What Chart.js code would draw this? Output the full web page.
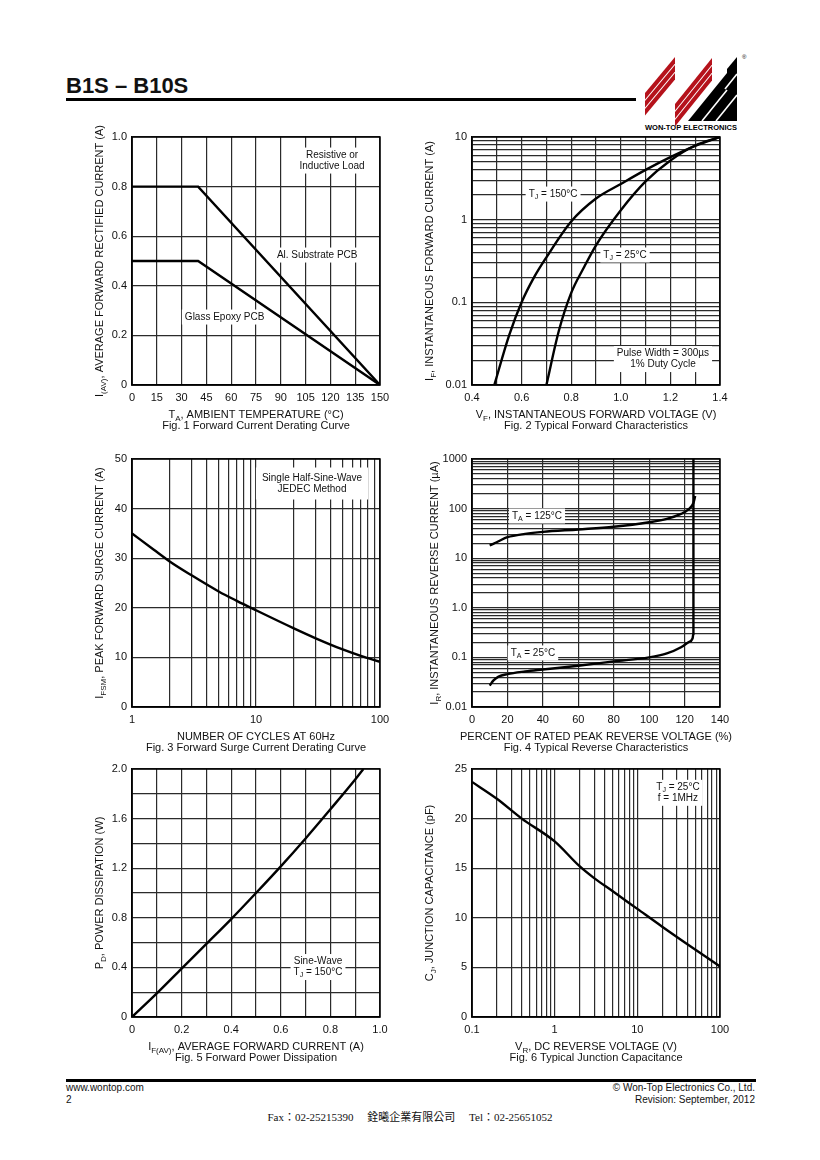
<!DOCTYPE html>
<html>
<head>
<meta charset="utf-8">
<script src="https://cdn.jsdelivr.net/npm/chart.js@4/dist/chart.umd.min.js"></script>
<style>
  html, body { margin: 0; padding: 0; background: #fff; }
  body { width: 820px; height: 1160px; position: relative; overflow: hidden; font-family: "Liberation Sans", Arial, sans-serif; color: #111; }
  canvas { position: absolute; }
  .abs { position: absolute; white-space: nowrap; }
</style>
</head>
<body>

<div class="abs" style="left:66px; top:74px; font-size:22px; line-height:24px; font-weight:bold;">B1S – B10S</div>
<div class="abs" style="left:66px; top:98px; width:570px; height:3px; background:#000;"></div>

<svg class="abs" style="left:630px; top:45px;" width="120" height="90" viewBox="0 0 120 90">
  <g fill="#b5121b">
    <polygon points="15,48 45,12 45,18.5 15,54.5"/>
    <polygon points="15,56 45,20 45,26.5 15,62.5"/>
    <polygon points="15,64 45,28 45,34.5 15,70.5"/>
    <polygon points="45,59 82,13 82,19.5 45,65.5"/>
    <polygon points="45,67 82,21 82,27.5 45,73.5"/>
    <polygon points="45,75 82,29 82,35.5 45,81.5"/>
  </g>
  <g fill="#000">
    <polygon points="58,76 97,28 97,76"/>
    <polygon points="97,24 107,12 107,76 97,76"/>
  </g>
  <g stroke="#fff" stroke-width="1.6">
    <line x1="72" y1="76" x2="97" y2="45"/>
    <line x1="86" y1="76" x2="107" y2="50"/>
    <line x1="95" y1="44" x2="107" y2="29"/>
  </g>
  <text x="112" y="14" font-size="6" font-family="Liberation Sans, Arial">®</text>
  <text x="15" y="85" font-size="7.5" font-weight="bold" font-family="Liberation Sans, Arial" textLength="92" lengthAdjust="spacingAndGlyphs">WON-TOP ELECTRONICS</text>
</svg>

<canvas id="fig1"></canvas>
<canvas id="fig2"></canvas>
<canvas id="fig3"></canvas>
<canvas id="fig4"></canvas>
<canvas id="fig5"></canvas>
<canvas id="fig6"></canvas>

<div class="abs" style="left:66px; top:1079px; width:690px; height:3px; background:#000;"></div>
<div class="abs" style="left:66px; top:1082px; font-size:10px; line-height:12px;">www.wontop.com<br>2</div>
<div class="abs" style="right:65px; top:1082px; font-size:10px; line-height:12px; text-align:right;">© Won-Top Electronics Co., Ltd.<br>Revision: September, 2012</div>
<div class="abs" style="left:0; width:820px; top:1110px; text-align:center; font-size:11px; line-height:14px; font-family:'Liberation Serif','DejaVu Serif','Noto Sans CJK TC',serif;">Fax：02-25215390 &nbsp; &nbsp; 銓曦企業有限公司 &nbsp; &nbsp; Tel：02-25651052</div>

<script>
// ---- Data ----
// Fig. 1 Forward current derating
const fig1Temp = [0, 40, 150];
const fig1AlPcb = [0.8, 0.8, 0];
const fig1GlassPcb = [0.5, 0.5, 0];
const fig1XLabels = ['0', '15', '30', '45', '60', '75', '90', '105', '120', '135', '150'];
const fig1YLabels = ['0', '0.2', '0.4', '0.6', '0.8', '1.0'];

// Fig. 2 Typical forward characteristics
const fig2Volt150 = [0.49, 0.55, 0.6, 0.65, 0.7, 0.8, 0.9, 1.0, 1.1, 1.2, 1.3, 1.4];
const fig2Amp150 = [0.01, 0.04, 0.1, 0.2, 0.35, 0.95, 1.8, 2.7, 4.0, 5.7, 7.8, 10];
const fig2Volt25 = [0.7, 0.75, 0.8, 0.85, 0.9, 1.0, 1.1, 1.2, 1.3, 1.4];
const fig2Amp25 = [0.01, 0.045, 0.13, 0.26, 0.49, 1.3, 2.9, 5.2, 7.9, 10];
const fig2XLabels = ['0.4', '0.6', '0.8', '1.0', '1.2', '1.4'];
const fig2YLabels = ['0.01', '0.1', '1', '10'];

// Fig. 3 Forward surge current derating
const fig3Cycles = [1, 1.5, 2, 3, 5, 7, 10, 20, 30, 50, 70, 100];
const fig3Surge = [35, 31.7, 29.4, 26.6, 23.3, 21.4, 19.5, 15.9, 13.9, 11.6, 10.3, 9.1];
const fig3XLabels = ['1', '10', '100'];
const fig3YLabels = ['0', '10', '20', '30', '40', '50'];

// Fig. 4 Typical reverse characteristics
const fig4Pct125 = [10, 15, 20, 30, 40, 60, 80, 100, 110, 118, 122, 125, 126];
const fig4Ir125 = [18, 22, 26.5, 31, 34, 38, 43, 53, 62, 78, 95, 130, 180];
const fig4Pct25 = [10, 12, 15, 20, 30, 40, 60, 80, 100, 110, 118, 122, 124.5, 125, 125];
const fig4Ir25 = [0.027, 0.034, 0.041, 0.046, 0.052, 0.057, 0.068, 0.083, 0.1, 0.12, 0.16, 0.2, 0.24, 0.3, 1000];
const fig4XLabels = ['0', '20', '40', '60', '80', '100', '120', '140'];
const fig4YLabels = ['0.01', '0.1', '1.0', '10', '100', '1000'];

// Fig. 5 Forward power dissipation
const fig5Current = [0, 0.1, 0.2, 0.3, 0.4, 0.5, 0.6, 0.7, 0.8, 0.9, 0.933];
const fig5Power = [0, 0.19, 0.39, 0.59, 0.79, 1.0, 1.215, 1.44, 1.675, 1.915, 2.0];
const fig5XLabels = ['0', '0.2', '0.4', '0.6', '0.8', '1.0'];
const fig5YLabels = ['0', '0.4', '0.8', '1.2', '1.6', '2.0'];

// Fig. 6 Typical junction capacitance
const fig6Volt = [0.1, 0.2, 0.4, 1, 2, 3, 5, 10, 20, 50, 100];
const fig6Cap = [23.7, 22.0, 20.0, 17.7, 15.2, 14.0, 12.7, 10.9, 9.1, 6.8, 5.1];
const fig6XLabels = ['0.1', '1', '10', '100'];
const fig6YLabels = ['0', '5', '10', '15', '20', '25'];

// ---- Helpers ----
const FONT = '"Liberation Sans", Arial, sans-serif';
const PLOT_W = 248, PLOT_H = 248;

const pts = (xs, ys) => xs.map((x, i) => ({ x: x, y: ys[i] }));

// gridline values: every decade multiple for log, fixed step for linear
function gridValues(type, min, max, step) {
    const vals = [];
    if (type === 'logarithmic') {
        for (let e = Math.round(Math.log10(min)); Math.pow(10, e) <= max * 1.0001; e++) {
            for (let m = 1; m < 10; m++) {
                const v = +(m * Math.pow(10, e)).toPrecision(6);
                if (v >= min * 0.9999 && v <= max * 1.0001) vals.push(v);
            }
        }
    } else {
        const n = Math.round((max - min) / step);
        for (let i = 0; i <= n; i++) vals.push(+(min + i * step).toFixed(6));
    }
    return vals;
}

function axis(type, min, max, labels, step, pos) {
    return {
        type: type, min: min, max: max, position: pos,
        afterFit: s => { if (pos === 'left') s.width = 70; else s.height = 50; },
        afterBuildTicks: s => { s.ticks = gridValues(type, min, max, step).map(v => ({ value: v })); },
        ticks: {
            autoSkip: false, maxRotation: 0, minRotation: 0,
            padding: pos === 'left' ? 5 : 6,
            color: '#111',
            font: { family: FONT, size: 11 },
            callback: v => {
                const hit = labels.find(l => Math.abs(Number(l) - v) <= 1e-9 * Math.abs(v) + 1e-12);
                return hit === undefined ? '' : hit;
            }
        },
        grid: { color: '#2b2b2b', lineWidth: 1.2, drawTicks: false },
        border: { color: '#000', width: 1.5 }
    };
}

// text with "_{sub}" parts
function richParts(ctx, str, size) {
    const parts = [];
    const re = /_\{([^}]*)\}/g;
    let last = 0, m;
    while ((m = re.exec(str))) {
        if (m.index > last) parts.push({ t: str.slice(last, m.index), sub: false });
        parts.push({ t: m[1], sub: true });
        last = re.lastIndex;
    }
    if (last < str.length) parts.push({ t: str.slice(last), sub: false });
    let w = 0;
    parts.forEach(p => {
        p.font = (p.sub ? Math.round(size * 0.72) : size) + 'px ' + FONT;
        ctx.font = p.font;
        p.w = ctx.measureText(p.t).width;
        w += p.w;
    });
    return { parts: parts, w: w };
}

function drawRich(ctx, str, x, y, size) {
    const r = richParts(ctx, str, size);
    let cx = x - r.w / 2;
    ctx.textAlign = 'left';
    ctx.textBaseline = 'middle';
    r.parts.forEach(p => {
        ctx.font = p.font;
        ctx.fillText(p.t, cx, p.sub ? y + size * 0.3 : y);
        cx += p.w;
    });
}

// ---- Plugin: notes, frame, axis titles, captions ----
const sheetText = {
    id: 'sheetText',
    beforeDatasetsDraw(chart, args, opts) {
        const { ctx, chartArea: a, scales: { x, y } } = chart;
        ctx.save();
        (opts.notes || []).forEach(n => {
            const px = x.getPixelForValue(n.at[0]);
            const py = y.getPixelForValue(n.at[1]);
            const lh = 11;
            const h = n.lines.length * lh;
            const w = Math.max(...n.lines.map(l => richParts(ctx, l, 10).w));
            const pad = n.pad || 3;
            ctx.fillStyle = '#fff';
            ctx.fillRect(px - w / 2 - pad, py - h / 2 - pad + 1, w + 2 * pad, h + 2 * pad - 2);
            ctx.fillStyle = '#111';
            n.lines.forEach((l, i) => drawRich(ctx, l, px, py - h / 2 + lh * (i + 0.5), 10));
        });
        ctx.strokeStyle = '#000';
        ctx.lineWidth = 1.5;
        ctx.strokeRect(a.left, a.top, a.right - a.left, a.bottom - a.top);
        ctx.restore();
    },
    afterDraw(chart, args, opts) {
        const { ctx, chartArea: a } = chart;
        const cx = (a.left + a.right) / 2;
        ctx.save();
        ctx.fillStyle = '#111';
        drawRich(ctx, opts.xTitle, cx, a.bottom + 30, 11);
        drawRich(ctx, opts.caption, cx, a.bottom + 41, 11);
        ctx.translate(a.left - opts.yGap, (a.top + a.bottom) / 2);
        ctx.rotate(-Math.PI / 2);
        drawRich(ctx, opts.yTitle, 0, 0, 11);
        ctx.restore();
    }
};

function makeChart(id, left, top, xAxis, yAxis, series, text) {
    const cv = document.getElementById(id);
    cv.width = PLOT_W + 100;
    cv.height = PLOT_H + 62;
    cv.style.left = (left - 70) + 'px';
    cv.style.top = (top - 12) + 'px';
    return new Chart(cv, {
        type: 'line',
        data: {
            datasets: series.map(s => ({
                data: pts(s.xs, s.ys),
                borderColor: '#000',
                borderWidth: 2.4,
                pointRadius: 0,
                fill: false,
                tension: s.smooth ? 0.4 : 0,
                cubicInterpolationMode: s.smooth ? 'monotone' : 'default'
            }))
        },
        options: {
            responsive: false,
            animation: false,
            events: [],
            layout: { padding: { left: 0, top: 12, right: 30, bottom: 0 } },
            plugins: { legend: { display: false }, tooltip: { enabled: false }, sheetText: text },
            scales: { x: xAxis, y: yAxis }
        },
        plugins: [sheetText]
    });
}

// ---- Charts ----
makeChart('fig1', 132, 137,
    axis('linear', 0, 150, fig1XLabels, 15, 'bottom'),
    axis('linear', 0, 1, fig1YLabels, 0.2, 'left'),
    [{ xs: fig1Temp, ys: fig1AlPcb }, { xs: fig1Temp, ys: fig1GlassPcb }],
    {
        yTitle: 'I_{(AV)}, AVERAGE FORWARD RECTIFIED CURRENT (A)', yGap: 32,
        xTitle: 'T_{A}, AMBIENT TEMPERATURE (°C)',
        caption: 'Fig. 1 Forward Current Derating Curve',
        notes: [
            { at: [121, 0.905], lines: ['Resistive or', 'Inductive Load'] },
            { at: [112, 0.524], lines: ['Al. Substrate PCB'] },
            { at: [56, 0.274], lines: ['Glass Epoxy PCB'] }
        ]
    });

makeChart('fig2', 472, 137,
    axis('linear', 0.4, 1.4, fig2XLabels, 0.1, 'bottom'),
    axis('logarithmic', 0.01, 10, fig2YLabels, null, 'left'),
    [{ xs: fig2Volt150, ys: fig2Amp150, smooth: true }, { xs: fig2Volt25, ys: fig2Amp25, smooth: true }],
    {
        yTitle: 'I_{F}, INSTANTANEOUS FORWARD CURRENT (A)', yGap: 42,
        xTitle: 'V_{F}, INSTANTANEOUS FORWARD VOLTAGE (V)',
        caption: 'Fig. 2 Typical Forward Characteristics',
        notes: [
            { at: [0.727, 2.04], lines: ['T_{J} = 150°C'] },
            { at: [1.017, 0.374], lines: ['T_{J} = 25°C'] },
            { at: [1.17, 0.0206], lines: ['Pulse Width = 300µs', '1% Duty Cycle'] }
        ]
    });

makeChart('fig3', 132, 459,
    axis('logarithmic', 1, 100, fig3XLabels, null, 'bottom'),
    axis('linear', 0, 50, fig3YLabels, 10, 'left'),
    [{ xs: fig3Cycles, ys: fig3Surge, smooth: true }],
    {
        yTitle: 'I_{FSM}, PEAK FORWARD SURGE CURRENT (A)', yGap: 32,
        xTitle: 'NUMBER OF CYCLES AT 60Hz',
        caption: 'Fig. 3 Forward Surge Current Derating Curve',
        notes: [
            { at: [28.3, 45.06], lines: ['Single Half-Sine-Wave', 'JEDEC Method'], pad: 6 }
        ]
    });

makeChart('fig4', 472, 459,
    axis('linear', 0, 140, fig4XLabels, 20, 'bottom'),
    axis('logarithmic', 0.01, 1000, fig4YLabels, null, 'left'),
    [{ xs: fig4Pct125, ys: fig4Ir125, smooth: true }, { xs: fig4Pct25, ys: fig4Ir25, smooth: true }],
    {
        yTitle: 'I_{R}, INSTANTANEOUS REVERSE CURRENT (µA)', yGap: 37,
        xTitle: 'PERCENT OF RATED PEAK REVERSE VOLTAGE (%)',
        caption: 'Fig. 4 Typical Reverse Characteristics',
        notes: [
            { at: [36.7, 71], lines: ['T_{A} = 125°C'] },
            { at: [34.4, 0.123], lines: ['T_{A} = 25°C'] }
        ]
    });

makeChart('fig5', 132, 769,
    axis('linear', 0, 1, fig5XLabels, 0.1, 'bottom'),
    axis('linear', 0, 2, fig5YLabels, 0.2, 'left'),
    [{ xs: fig5Current, ys: fig5Power, smooth: true }],
    {
        yTitle: 'P_{D}, POWER DISSIPATION (W)', yGap: 32,
        xTitle: 'I_{F(AV)}, AVERAGE FORWARD CURRENT (A)',
        caption: 'Fig. 5 Forward Power Dissipation',
        notes: [
            { at: [0.75, 0.403], lines: ['Sine-Wave', 'T_{J} = 150°C'] }
        ]
    });

makeChart('fig6', 472, 769,
    axis('logarithmic', 0.1, 100, fig6XLabels, null, 'bottom'),
    axis('linear', 0, 25, fig6YLabels, 5, 'left'),
    [{ xs: fig6Volt, ys: fig6Cap, smooth: true }],
    {
        yTitle: 'C_{J}, JUNCTION CAPACITANCE (pF)', yGap: 42,
        xTitle: 'V_{R}, DC REVERSE VOLTAGE (V)',
        caption: 'Fig. 6 Typical Junction Capacitance',
        notes: [
            { at: [31, 22.6], lines: ['T_{J} = 25°C', 'f = 1MHz'] }
        ]
    });
</script>
</body>
</html>
